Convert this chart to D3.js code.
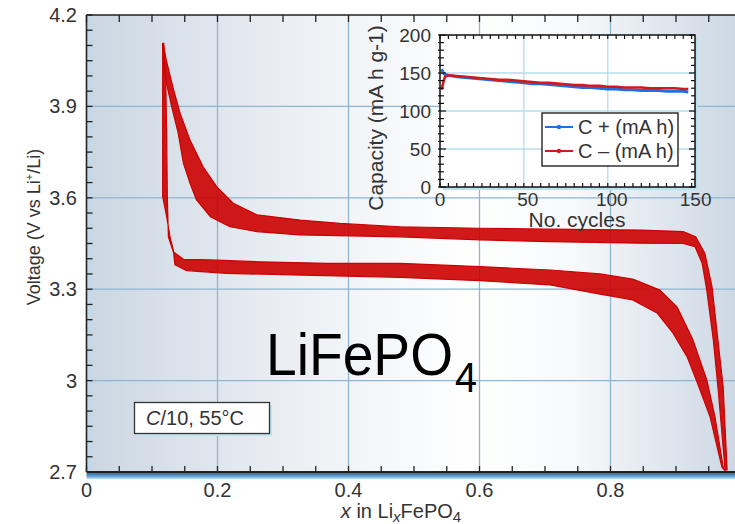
<!DOCTYPE html>
<html>
<head>
<meta charset="utf-8">
<script src="https://cdn.jsdelivr.net/npm/d3@7"></script>
<style>
  body { margin: 0; background: #fff; }
  svg { display: block; font-family: "Liberation Sans", Arial, sans-serif; }
</style>
</head>
<body>
<svg width="735" height="524"></svg>
<script>
// ---- main plot data: x in LixFePO4, voltage (V) ----
const xTicks = [0, 0.2, 0.4, 0.6, 0.8];
const xTickLabels = ["0", "0.2", "0.4", "0.6", "0.8"];
const yTicks = [2.7, 3, 3.3, 3.6, 3.9, 4.2];
const yTickLabels = ["2.7", "3", "3.3", "3.6", "3.9", "4.2"];

// charge band (upper plateau), right/top edge then left/bottom edge
const chargeOuter = [[0.117,4.107],[0.122,4.05],[0.133,3.954],[0.143,3.877],[0.158,3.79],[0.178,3.702],[0.199,3.636],[0.224,3.582],[0.26,3.544],[0.326,3.527],[0.387,3.516],[0.479,3.505],[0.601,3.50],[0.708,3.497],[0.846,3.494],[0.911,3.489],[0.930,3.472],[0.944,3.418],[0.955,3.308],[0.964,3.133],[0.972,2.98],[0.978,2.707]];
const chargeInner = [[0.116,4.10],[0.121,3.987],[0.130,3.899],[0.140,3.812],[0.148,3.713],[0.158,3.648],[0.168,3.593],[0.189,3.538],[0.219,3.505],[0.26,3.489],[0.326,3.478],[0.479,3.472],[0.601,3.462],[0.708,3.456],[0.846,3.451],[0.911,3.45],[0.929,3.44],[0.940,3.385],[0.947,3.297],[0.957,3.133],[0.964,2.98],[0.975,2.707]];

// discharge band (lower plateau + vertical jump), top edge then bottom edge
const dischargeOuter = [[0.975,2.703],[0.972,2.717],[0.9595,2.881],[0.947,3.002],[0.926,3.133],[0.9015,3.242],[0.8756,3.297],[0.834,3.333],[0.784,3.35],[0.708,3.363],[0.601,3.374],[0.479,3.385],[0.367,3.385],[0.264,3.39],[0.1885,3.396],[0.148,3.398],[0.1325,3.423],[0.125,3.472],[0.1234,3.604],[0.1224,3.80],[0.121,3.987],[0.118,4.107]];
const dischargeInner = [[0.975,2.703],[0.970,2.717],[0.952,2.881],[0.932,2.996],[0.917,3.078],[0.8955,3.156],[0.871,3.222],[0.834,3.265],[0.784,3.284],[0.708,3.314],[0.601,3.328],[0.479,3.339],[0.316,3.347],[0.214,3.352],[0.153,3.361],[0.135,3.38],[0.1325,3.429],[0.1275,3.472],[0.1224,3.538],[0.1163,3.604],[0.1163,4.107]];

// ---- inset data: capacity vs cycle ----
const cycles   = [1,2,3,5,10,15,20,25,30,35,40,45,50,55,60,65,70,75,80,85,90,95,100,105,110,115,120,125,130,135,140,145,148];
const capPlus  = [155,150,148,147,145,144,143,142,141,140,139,138,137,136,136,135,134,133,132,131,131,130,129,129,128,128,127,127,127,126,126,126,125];
const capMinus = [128,138,145,147,146,145,144,143,142,141,141,140,139,138,137,137,136,135,134,134,133,133,132,132,131,131,131,130,130,130,130,129,129];
const insetXTicks = [0, 50, 100, 150];
const insetYTicks = [0, 50, 100, 150, 200];
const legendLabels = ["C + (mA h)", "C \u2013 (mA h)"];

const svg = d3.select("svg");
const margin = {top: 15, left: 86.5, bottom: 472};
const W = 735;

const x = d3.scaleLinear().domain([0, 1]).range([margin.left, margin.left + 655]);
const y = d3.scaleLinear().domain([2.7, 4.2]).range([margin.bottom, margin.top]);

const defs = svg.append("defs");
const bg = defs.append("linearGradient").attr("id", "bg");
[[0, "#cbd6e2"], [0.3, "#eaeef3"], [0.6, "#ffffff"], [0.75, "#f7f9fb"], [1, "#cdd8e4"]]
  .forEach(s => bg.append("stop").attr("offset", s[0]).attr("stop-color", s[1]));
const bar = defs.append("linearGradient").attr("id", "bar").attr("x2", 0).attr("y2", 1);
[[0, "#2d6ea8"], [0.5, "#5f9ccc"], [1, "#c9def0"]]
  .forEach(s => bar.append("stop").attr("offset", s[0]).attr("stop-color", s[1]));
defs.append("clipPath").attr("id", "plotClip").append("rect")
  .attr("x", margin.left).attr("y", margin.top)
  .attr("width", W - margin.left).attr("height", margin.bottom - margin.top);

// background
svg.append("rect").attr("x", margin.left).attr("y", margin.top)
  .attr("width", W - margin.left).attr("height", margin.bottom - margin.top)
  .attr("fill", "url(#bg)");
svg.append("rect").attr("x", margin.left).attr("y", margin.top)
  .attr("width", 5).attr("height", margin.bottom - margin.top).attr("fill", "#c3d9ea");

// gridlines
const grid = svg.append("g").attr("stroke", "#8db6d4").attr("stroke-width", 1.3);
xTicks.slice(1).forEach(t => grid.append("line")
  .attr("x1", x(t)).attr("x2", x(t)).attr("y1", margin.top).attr("y2", margin.bottom));
yTicks.slice(1, -1).forEach(t => grid.append("line")
  .attr("x1", margin.left).attr("x2", W).attr("y1", y(t)).attr("y2", y(t)));

// voltage bands
const line = d3.line().x(d => x(d[0])).y(d => y(d[1]));
const curves = svg.append("g").attr("clip-path", "url(#plotClip)");
[[chargeOuter, chargeInner], [dischargeOuter, dischargeInner]].forEach(([a, b]) => {
  curves.append("path")
    .attr("d", line(a.concat(b.slice().reverse())) + "Z")
    .attr("fill", "#cc0000").attr("fill-opacity", 0.9)
    .attr("stroke", "#cc0000").attr("stroke-width", 1.2).attr("stroke-linejoin", "round");
});

// axes
const minorX = d3.range(0, 0.99, 0.05);
const minorY = d3.range(2.75, 4.2, 0.05);
const ax = svg.append("g").attr("stroke", "#222").attr("stroke-width", 1.3);
minorX.forEach(t => {
  ax.append("line").attr("x1", x(t)).attr("x2", x(t)).attr("y1", margin.bottom).attr("y2", margin.bottom - 6);
  ax.append("line").attr("x1", x(t)).attr("x2", x(t)).attr("y1", margin.top).attr("y2", margin.top + 7);
});
minorY.forEach(t => ax.append("line")
  .attr("x1", margin.left).attr("x2", margin.left + 6).attr("y1", y(t)).attr("y2", y(t)));
svg.append("rect").attr("x", margin.left).attr("y", margin.bottom + 1)
  .attr("width", W - margin.left).attr("height", 6).attr("fill", "url(#bar)");
ax.append("line").attr("x1", margin.left).attr("x2", W).attr("y1", margin.bottom).attr("y2", margin.bottom).attr("stroke-width", 2);
ax.append("line").attr("x1", margin.left).attr("x2", W).attr("y1", margin.top).attr("y2", margin.top);
ax.append("line").attr("x1", margin.left).attr("x2", margin.left).attr("y1", margin.top).attr("y2", margin.bottom).attr("stroke-width", 1.6);

const labels = svg.append("g").attr("fill", "#333").attr("font-size", 20);
xTicks.forEach((t, i) => labels.append("text").attr("x", x(t)).attr("y", 497)
  .attr("text-anchor", "middle").text(xTickLabels[i]));
yTicks.forEach((t, i) => labels.append("text").attr("x", 77).attr("y", y(t) + 7)
  .attr("text-anchor", "end").text(yTickLabels[i]));

const yt = labels.append("text").attr("transform", "translate(40,227) rotate(-90)")
  .attr("text-anchor", "middle").attr("font-size", 18);
yt.append("tspan").text("Voltage (V vs Li");
yt.append("tspan").attr("font-size", 11).attr("dy", -7).text("+");
yt.append("tspan").attr("dy", 7).text("/Li)");

const xt = labels.append("text").attr("x", 401).attr("y", 518).attr("text-anchor", "middle").attr("font-size", 20);
xt.append("tspan").attr("font-style", "italic").text("x");
xt.append("tspan").text(" in Li");
xt.append("tspan").attr("font-style", "italic").attr("font-size", 15).attr("dy", 4).text("x");
xt.append("tspan").attr("dy", -4).text("FePO");
xt.append("tspan").attr("font-size", 15).attr("dy", 4).text("4");

// condition box
svg.append("rect").attr("x", 137).attr("y", 405).attr("width", 135).attr("height", 31).attr("fill", "#bfe3f4");
svg.append("rect").attr("x", 134.5).attr("y", 402.5).attr("width", 135).attr("height", 31)
  .attr("fill", "#fff").attr("stroke", "#333").attr("stroke-width", 1.3);
const ct = svg.append("text").attr("x", 146).attr("y", 424.5).attr("font-size", 20).attr("fill", "#333");
ct.append("tspan").attr("font-style", "italic").text("C");
ct.append("tspan").text("/10, 55\u00B0C");

// big formula (one text element, narrowed horizontally)
const big = svg.append("text").attr("transform", "translate(266,375) scale(0.92,1)").attr("fill", "#000");
big.append("tspan").attr("font-size", 60).text("LiFePO");
big.append("tspan").attr("font-size", 43).attr("dx", 2).attr("dy", 16.5).text("4");

// ---- inset ----
const ix = d3.scaleLinear().domain([0, 152]).range([440, 695]);
const iy = d3.scaleLinear().domain([0, 200]).range([187, 35]);
const inset = svg.append("g");
inset.append("rect").attr("x", 443).attr("y", 38).attr("width", 255).attr("height", 152).attr("fill", "#b7e2f3");
inset.append("rect").attr("x", 440).attr("y", 35).attr("width", 255).attr("height", 152).attr("fill", "#fff");
const ig = inset.append("g").attr("stroke", "#b3dfee").attr("stroke-width", 1.4);
[50, 100, 150].forEach(t => ig.append("line").attr("x1", 440).attr("x2", 695).attr("y1", iy(t)).attr("y2", iy(t)));
[50, 100].forEach(t => ig.append("line").attr("x1", ix(t)).attr("x2", ix(t)).attr("y1", 35).attr("y2", 187));

const capLine = d3.line().x((d, i) => ix(cycles[i])).y(d => iy(d));
inset.append("path").attr("d", capLine(capPlus)).attr("fill", "none").attr("stroke", "#1f6fe6").attr("stroke-width", 3);
inset.append("path").attr("d", capLine(capMinus)).attr("fill", "none").attr("stroke", "#d21a1a").attr("stroke-width", 2.6);

const it = inset.append("g").attr("stroke", "#111").attr("stroke-width", 1.2);
d3.range(0, 151, 5).forEach(t => {
  it.append("line").attr("x1", ix(t)).attr("x2", ix(t)).attr("y1", 187).attr("y2", 183);
  it.append("line").attr("x1", ix(t)).attr("x2", ix(t)).attr("y1", 35).attr("y2", 39);
});
d3.range(0, 201, 10).forEach(t => {
  const len = t % 50 === 0 ? 6 : 4;
  it.append("line").attr("x1", 438).attr("x2", 440 + len).attr("y1", iy(t)).attr("y2", iy(t));
  it.append("line").attr("x1", 695).attr("x2", 695 - len).attr("y1", iy(t)).attr("y2", iy(t));
});
inset.append("rect").attr("x", 440).attr("y", 35).attr("width", 255).attr("height", 152)
  .attr("fill", "none").attr("stroke", "#111").attr("stroke-width", 1.5);

const il = inset.append("g").attr("fill", "#333").attr("font-size", 19);
insetXTicks.forEach(t => il.append("text").attr("x", ix(t) + (t ? 4 : 0)).attr("y", 206)
  .attr("text-anchor", "middle").text(t));
insetYTicks.forEach(t => il.append("text").attr("x", 431).attr("y", iy(t) + 7)
  .attr("text-anchor", "end").text(t));
il.append("text").attr("x", 577).attr("y", 227).attr("text-anchor", "middle").attr("font-size", 21).text("No. cycles");
il.append("text").attr("transform", "translate(383,118) rotate(-90)").attr("text-anchor", "middle")
  .attr("font-size", 21).text("Capacity (mA h g-1)");

// legend
const lg = inset.append("g");
lg.append("rect").attr("x", 542).attr("y", 113).attr("width", 136).attr("height", 53)
  .attr("fill", "#fff").attr("stroke", "#111").attr("stroke-width", 1.3);
[["#1f6fe6", 127], ["#d21a1a", 151]].forEach(([c, yy], i) => {
  lg.append("line").attr("x1", 545).attr("x2", 573).attr("y1", yy).attr("y2", yy).attr("stroke", c).attr("stroke-width", 2);
  lg.append("circle").attr("cx", 559).attr("cy", yy).attr("r", 2.2).attr("fill", c);
  lg.append("text").attr("x", 578).attr("y", yy + 7).attr("font-size", 20).attr("fill", "#333").text(legendLabels[i]);
});
</script>
</body>
</html>
